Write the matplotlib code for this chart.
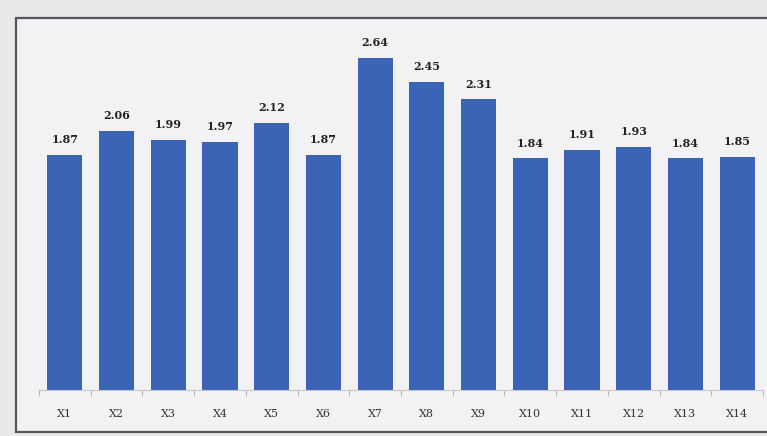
import numpy as np
import matplotlib.pyplot as plt
from matplotlib.patches import Rectangle

labels = ["X1", "X2", "X3", "X4", "X5", "X6", "X7", "X8", "X9", "X10", "X11", "X12", "X13", "X14"]
values = [1.87, 2.06, 1.99, 1.97, 2.12, 1.87, 2.64, 2.45, 2.31, 1.84, 1.91, 1.93, 1.84, 1.85]

bar_color = "#3b63b6"
page_color = "#e8e8eb"
panel_color = "#f2f2f4"

fig = plt.figure(figsize=(7.67, 4.36), dpi=100)
fig.patch.set_facecolor(page_color)

# outer chart frame, kept behind the axes
frame = Rectangle((16 / 767, 1 - 432 / 436), 1.0, (432 - 18) / 436,
                  transform=fig.transFigure, facecolor=panel_color,
                  edgecolor="#55555a", linewidth=1.6, zorder=-5)
fig.patches.append(frame)

ax = fig.add_axes([39 / 767, 46 / 436, 724 / 767, 365 / 436])
ax.set_facecolor("none")
ax.set_zorder(2)

x = np.arange(len(labels))
bars = ax.bar(x, values, width=0.68, color=bar_color, zorder=2)
ax.bar_label(bars, labels=[f"{v:.2f}" for v in values], padding=7,
             fontsize=8, fontweight="bold", color="#222222", family="DejaVu Serif")

ax.set_xlim(-0.5, len(labels) - 0.5)
ax.set_ylim(0, 2.9)

for side in ["top", "right", "left"]:
    ax.spines[side].set_visible(False)
ax.spines["bottom"].set_color("#c8c8cc")
ax.spines["bottom"].set_linewidth(0.8)

ax.set_yticks([])
ax.set_xticks(x)
ax.set_xticklabels(labels, fontsize=8, color="#333333", family="DejaVu Serif")
ax.tick_params(axis="x", which="major", length=0, pad=14)
ax.set_xticks(np.arange(-0.5, len(labels)), minor=True)
ax.tick_params(axis="x", which="minor", length=4, color="#b5b5ba", width=0.8)

fig.savefig("out.png", dpi=100, facecolor=fig.get_facecolor())
